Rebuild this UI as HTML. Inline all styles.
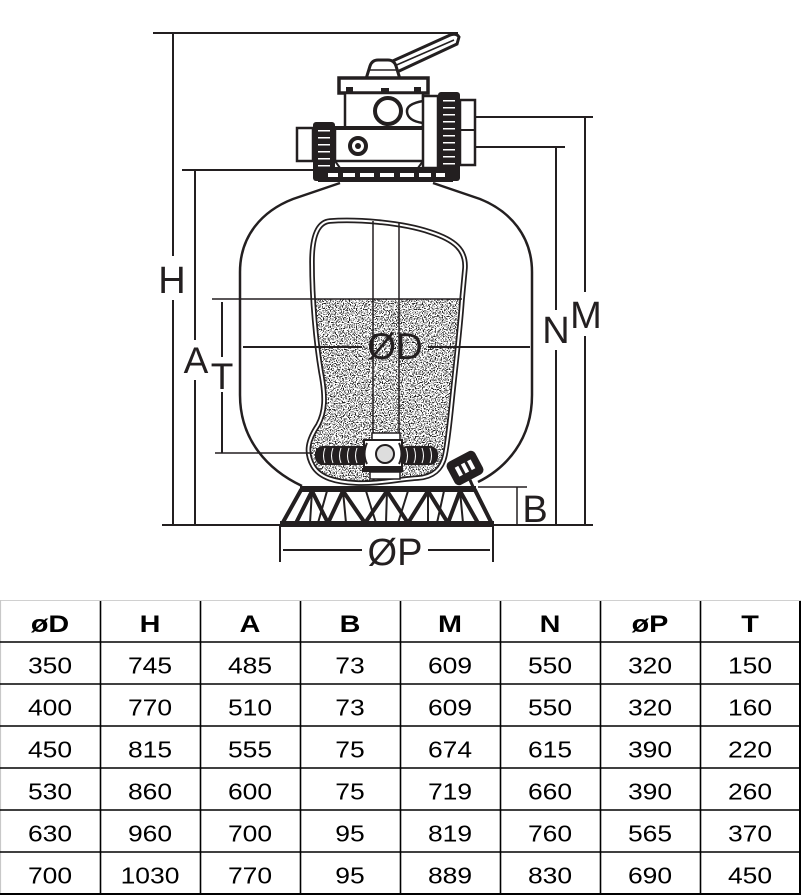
<!DOCTYPE html>
<html><head><meta charset="utf-8"><style>
html,body{margin:0;padding:0;background:#fff;}
svg{display:block;}
</style></head><body>
<svg width="801" height="895" viewBox="0 0 801 895" xmlns="http://www.w3.org/2000/svg" font-family="'Liberation Sans', Arial, sans-serif">
<defs>
<filter id="sp" x="0" y="0" width="1" height="1" color-interpolation-filters="sRGB">
<feTurbulence type="fractalNoise" baseFrequency="0.85" numOctaves="1" seed="7"/>
<feColorMatrix type="matrix" values="0 0 0 0 0.12  0 0 0 0 0.12  0 0 0 0 0.12  18 0 0 0 -9.45"/>
</filter>
<clipPath id="cut"><path d="M330,221 C355,219 400,222 430,232 C455,240 466,250 465,268 L462,300 C460,330 455,370 452,400 C450,420 448,440 445,455 C442,470 432,477 418,478 C400,479 378,484 356,483 C336,482 320,478 313,466 C305,452 308,440 318,425 C325,412 326,398 321,372 C316,342 312,300 312,262 C312,236 318,222 330,221 Z"/></clipPath>
<clipPath id="sandclip"><rect x="300" y="299" width="180" height="190"/></clipPath>
</defs>
<rect width="801" height="895" fill="#fff"/>

<!-- dimension lines -->
<g stroke="#231f20" stroke-width="2" fill="none">
<line x1="153" y1="33" x2="458" y2="33"/>
<line x1="173" y1="33" x2="173" y2="256"/>
<line x1="173" y1="300" x2="173" y2="525"/>
<line x1="182" y1="170" x2="317" y2="170"/>
<line x1="195" y1="170" x2="195" y2="340"/>
<line x1="195" y1="380" x2="195" y2="525"/>
<line x1="475" y1="117" x2="593" y2="117"/>
<line x1="585" y1="117" x2="585" y2="292"/>
<line x1="585" y1="336" x2="585" y2="525"/>
<line x1="475" y1="147" x2="565" y2="147"/>
<line x1="556" y1="147" x2="556" y2="310"/>
<line x1="556" y1="350" x2="556" y2="525"/>
<line x1="162" y1="525" x2="593" y2="525"/>
<line x1="478" y1="487" x2="527" y2="487" stroke-width="1.5"/>
<line x1="517" y1="487" x2="517" y2="525" stroke-width="1.5"/>
<line x1="280" y1="525" x2="280" y2="562"/>
<line x1="493" y1="525" x2="493" y2="562"/>
<line x1="283" y1="550" x2="362" y2="550"/>
<line x1="428" y1="550" x2="490" y2="550"/>
</g>

<!-- tank -->
<path d="M340,183 L293,199 C262,211 240,236 240,272 L240,395 C240,440 268,470 302,486" fill="none" stroke="#231f20" stroke-width="2.5"/>
<path d="M433,183 L480,199 C510,211 532,236 532,272 L532,395 C532,440 506,468 478,482" fill="none" stroke="#231f20" stroke-width="2.5"/>

<!-- cutout -->
<path d="M330,221 C355,219 400,222 430,232 C455,240 466,250 465,268 L462,300 C460,330 455,370 452,400 C450,420 448,440 445,455 C442,470 432,477 418,478 C400,479 378,484 356,483 C336,482 320,478 313,466 C305,452 308,440 318,425 C325,412 326,398 321,372 C316,342 312,300 312,262 C312,236 318,222 330,221 Z" fill="#fff"/>
<g clip-path="url(#cut)">
<g clip-path="url(#sandclip)">
<rect x="300" y="299" width="180" height="190" fill="#fff"/>
<rect x="300" y="299" width="180" height="190" fill="#fff" filter="url(#sp)"/>
</g>
</g>
<path d="M330,221 C355,219 400,222 430,232 C455,240 466,250 465,268 L462,300 C460,330 455,370 452,400 C450,420 448,440 445,455 C442,470 432,477 418,478 C400,479 378,484 356,483 C336,482 320,478 313,466 C305,452 308,440 318,425 C325,412 326,398 321,372 C316,342 312,300 312,262 C312,236 318,222 330,221 Z" fill="none" stroke="#231f20" stroke-width="5.5"/>
<path d="M330,221 C355,219 400,222 430,232 C455,240 466,250 465,268 L462,300 C460,330 455,370 452,400 C450,420 448,440 445,455 C442,470 432,477 418,478 C400,479 378,484 356,483 C336,482 320,478 313,466 C305,452 308,440 318,425 C325,412 326,398 321,372 C316,342 312,300 312,262 C312,236 318,222 330,221 Z" fill="none" stroke="#fff" stroke-width="2"/>

<!-- inner lines -->
<g stroke="#231f20" fill="none">
<line x1="373" y1="221" x2="373" y2="433" stroke-width="1.5"/>
<line x1="399" y1="222" x2="399" y2="433" stroke-width="1.5"/>
<line x1="212" y1="299" x2="462" y2="299" stroke-width="1.5"/>
<line x1="243" y1="347" x2="362" y2="347" stroke-width="2"/>
<line x1="428" y1="347" x2="530" y2="347" stroke-width="2"/>
<line x1="222" y1="302" x2="222" y2="357" stroke-width="2"/>
<line x1="222" y1="392" x2="222" y2="453" stroke-width="2"/>
<line x1="215" y1="453" x2="313" y2="453" stroke-width="1.5"/>
</g>

<!-- lateral assembly -->
<rect x="372" y="433" width="28" height="8" fill="#fff" stroke="#231f20" stroke-width="1.5"/>
<rect x="315" y="446" width="57" height="19" rx="8" fill="#231f20"/>
<rect x="399" y="446" width="39" height="19" rx="8" fill="#231f20"/>
<g stroke="#fff" stroke-width="1" fill="none">
<path d="M325,448 q-3,8 0,15 M333,448 q-3,8 0,15 M341,448 q-3,8 0,15 M349,448 q-3,8 0,15 M357,448 q-3,8 0,15 M365,448 q-3,8 0,15"/>
<path d="M406,448 q3,8 0,15 M414,448 q3,8 0,15 M422,448 q3,8 0,15 M430,448 q3,8 0,15"/>
</g>
<rect x="364" y="440" width="38" height="27" fill="#fff" stroke="#231f20" stroke-width="2"/>
<path d="M367,443 q-5,11 0,21 M399,443 q5,11 0,21" stroke="#231f20" stroke-width="2" fill="none"/>
<circle cx="385" cy="454" r="9" fill="#ddd" stroke="#231f20" stroke-width="2"/>
<rect x="362" y="468" width="41" height="4" fill="#231f20"/>
<rect x="370" y="472" width="30" height="7" fill="#fff" stroke="#231f20" stroke-width="1.5"/>

<!-- drain plug -->
<g transform="translate(465,468) rotate(-28)">
<rect x="-16" y="-13" width="32" height="26" rx="5" fill="#231f20"/>
<rect x="-9" y="-5" width="4" height="10" fill="#fff"/>
<rect x="-2" y="-5" width="4" height="10" fill="#fff"/>
<rect x="5" y="-5" width="4" height="10" fill="#fff"/>
</g>
<line x1="470" y1="480" x2="474" y2="489" stroke="#231f20" stroke-width="3"/>

<!-- base stand -->
<g fill="#231f20">
<rect x="300" y="486" width="176" height="6"/>
<rect x="280" y="521" width="214" height="6"/>
</g>
<g stroke="#231f20" stroke-width="4" stroke-linecap="round">
<line x1="301" y1="490" x2="282" y2="524"/>
<line x1="475" y1="490" x2="492" y2="524"/>
<line x1="312" y1="491" x2="296" y2="523"/>
<line x1="312" y1="491" x2="328" y2="523"/>
<line x1="343" y1="491" x2="328" y2="523"/>
<line x1="343" y1="491" x2="365" y2="523"/>
<line x1="387" y1="491" x2="365" y2="523"/>
<line x1="387" y1="491" x2="408" y2="523"/>
<line x1="428" y1="491" x2="408" y2="523"/>
<line x1="428" y1="491" x2="448" y2="523"/>
<line x1="460" y1="491" x2="448" y2="523"/>
<line x1="460" y1="491" x2="478" y2="523"/>
</g>
<g stroke="#231f20" stroke-width="2">
<line x1="312" y1="491" x2="310" y2="523"/>
<line x1="343" y1="491" x2="346" y2="523"/>
<line x1="387" y1="491" x2="386" y2="523"/>
<line x1="428" y1="491" x2="428" y2="523"/>
<line x1="460" y1="491" x2="463" y2="523"/>
<line x1="327" y1="491" x2="318" y2="523"/>
<line x1="366" y1="491" x2="376" y2="523"/>
<line x1="408" y1="491" x2="398" y2="523"/>
<line x1="444" y1="491" x2="437" y2="523"/>
</g>

<!-- valve -->
<path d="M386,64 L448,36 Q456,32 459,37 L457,44 L397,72 Z" fill="#fff" stroke="#231f20" stroke-width="3"/>
<line x1="392" y1="67" x2="454" y2="40" stroke="#231f20" stroke-width="1.5"/>
<path d="M366,79 L370,66 Q372,60 378,60 L388,60 Q394,60 396,66 L400,79 Z" fill="#fff" stroke="#231f20" stroke-width="3"/>
<line x1="369" y1="70" x2="397" y2="70" stroke="#231f20" stroke-width="1.5"/>
<rect x="339" y="78" width="89" height="15" fill="#fff" stroke="#231f20" stroke-width="3.5"/>
<g fill="#231f20">
<rect x="346" y="87" width="7" height="8"/>
<rect x="381" y="88" width="8" height="7"/>
<rect x="414" y="87" width="7" height="8"/>
</g>
<rect x="345" y="93" width="78" height="35" fill="#fff" stroke="#231f20" stroke-width="2.5"/>
<circle cx="388" cy="111" r="13" fill="#fff" stroke="#231f20" stroke-width="4"/>
<path d="M423,101 Q406,104 407,112 Q408,121 423,123" fill="#fff" stroke="#231f20" stroke-width="2.5"/>
<rect x="335" y="128" width="90" height="33" fill="#fff" stroke="#231f20" stroke-width="2.5"/>
<line x1="335" y1="128" x2="425" y2="128" stroke="#231f20" stroke-width="4"/>
<circle cx="358" cy="146" r="8" fill="#fff" stroke="#231f20" stroke-width="4"/>
<circle cx="358" cy="146" r="3" fill="#231f20"/>
<path d="M335,161 L340,168 M423,161 L418,168" stroke="#231f20" stroke-width="2"/>
<rect x="423" y="96" width="15" height="72" fill="#fff" stroke="#231f20" stroke-width="2.5"/>
<rect x="297" y="128" width="16" height="33" fill="#fff" stroke="#231f20" stroke-width="2.5"/>
<rect x="460" y="100" width="15" height="65" fill="#fff" stroke="#231f20" stroke-width="2.5"/>
<line x1="460" y1="130" x2="475" y2="130" stroke="#231f20" stroke-width="2"/>
<rect x="313" y="122" width="22" height="59" rx="3" fill="#231f20"/>
<rect x="438" y="92" width="22" height="89" rx="3" fill="#231f20"/>
<g fill="#fff">
<rect x="318" y="130" width="12" height="1.5"/><rect x="318" y="137" width="12" height="1.5"/><rect x="318" y="144" width="12" height="1.5"/><rect x="318" y="151" width="12" height="1.5"/><rect x="318" y="158" width="12" height="1.5"/><rect x="318" y="165" width="12" height="1.5"/>
<rect x="443" y="100" width="12" height="1.5"/><rect x="443" y="107" width="12" height="1.5"/><rect x="443" y="114" width="12" height="1.5"/><rect x="443" y="121" width="12" height="1.5"/><rect x="443" y="128" width="12" height="1.5"/><rect x="443" y="135" width="12" height="1.5"/><rect x="443" y="142" width="12" height="1.5"/><rect x="443" y="149" width="12" height="1.5"/><rect x="443" y="156" width="12" height="1.5"/><rect x="443" y="163" width="12" height="1.5"/>
</g>
<rect x="318" y="167" width="135" height="15" fill="#231f20"/>
<g fill="#fff">
<rect x="328" y="173" width="10" height="4"/><rect x="343" y="173" width="12" height="4"/><rect x="360" y="173" width="14" height="4"/><rect x="380" y="173" width="14" height="4"/><rect x="400" y="173" width="14" height="4"/><rect x="419" y="173" width="12" height="4"/><rect x="436" y="173" width="9" height="4"/>
</g>

<!-- labels -->
<g fill="#231f20" font-size="38" text-anchor="middle">
<text x="172" y="293">H</text>
<text x="196" y="373" font-size="37">A</text>
<text x="222" y="389" font-size="37">T</text>
<text x="556" y="343">N</text>
<text x="586" y="328">M</text>
<text x="535" y="522">B</text>
<text x="395" y="359" font-size="37">ØD</text>
<text x="395" y="565">ØP</text>
</g>

<!-- table -->
<g>
<line x1="0" y1="600.5" x2="801" y2="600.5" stroke="#d0d0d0" stroke-width="1"/>
<line x1="0.5" y1="600" x2="0.5" y2="895" stroke="#c8c8c8" stroke-width="1.2"/>
<g stroke="#000" stroke-width="1.6">
<line x1="100.5" y1="601" x2="100.5" y2="894"/>
<line x1="200.5" y1="601" x2="200.5" y2="894"/>
<line x1="300.5" y1="601" x2="300.5" y2="894"/>
<line x1="400.5" y1="601" x2="400.5" y2="894"/>
<line x1="500.5" y1="601" x2="500.5" y2="894"/>
<line x1="600.5" y1="601" x2="600.5" y2="894"/>
<line x1="700.5" y1="601" x2="700.5" y2="894"/>
<line x1="0" y1="642" x2="800" y2="642"/>
<line x1="0" y1="684" x2="800" y2="684"/>
<line x1="0" y1="726" x2="800" y2="726"/>
<line x1="0" y1="768" x2="800" y2="768"/>
<line x1="0" y1="810" x2="800" y2="810"/>
<line x1="0" y1="852" x2="800" y2="852"/>
</g>
<rect x="799" y="601" width="2" height="294" fill="#000"/>
<rect x="0" y="893" width="801" height="2" fill="#000"/>
</g>
<g fill="#000" font-size="24" font-weight="bold" text-anchor="middle">
<text transform="translate(50,632) scale(1.2,1)">øD</text>
<text transform="translate(150,632) scale(1.2,1)">H</text>
<text transform="translate(250,632) scale(1.2,1)">A</text>
<text transform="translate(350,632) scale(1.2,1)">B</text>
<text transform="translate(450,632) scale(1.2,1)">M</text>
<text transform="translate(550,632) scale(1.2,1)">N</text>
<text transform="translate(650,632) scale(1.2,1)">øP</text>
<text transform="translate(750,632) scale(1.2,1)">T</text>
</g>
<g fill="#000" font-size="23" text-anchor="middle">
<text transform="translate(50,673.5) scale(1.15,1)">350</text><text transform="translate(150,673.5) scale(1.15,1)">745</text><text transform="translate(250,673.5) scale(1.15,1)">485</text><text transform="translate(350,673.5) scale(1.15,1)">73</text><text transform="translate(450,673.5) scale(1.15,1)">609</text><text transform="translate(550,673.5) scale(1.15,1)">550</text><text transform="translate(650,673.5) scale(1.15,1)">320</text><text transform="translate(750,673.5) scale(1.15,1)">150</text>
<text transform="translate(50,715.5) scale(1.15,1)">400</text><text transform="translate(150,715.5) scale(1.15,1)">770</text><text transform="translate(250,715.5) scale(1.15,1)">510</text><text transform="translate(350,715.5) scale(1.15,1)">73</text><text transform="translate(450,715.5) scale(1.15,1)">609</text><text transform="translate(550,715.5) scale(1.15,1)">550</text><text transform="translate(650,715.5) scale(1.15,1)">320</text><text transform="translate(750,715.5) scale(1.15,1)">160</text>
<text transform="translate(50,757.5) scale(1.15,1)">450</text><text transform="translate(150,757.5) scale(1.15,1)">815</text><text transform="translate(250,757.5) scale(1.15,1)">555</text><text transform="translate(350,757.5) scale(1.15,1)">75</text><text transform="translate(450,757.5) scale(1.15,1)">674</text><text transform="translate(550,757.5) scale(1.15,1)">615</text><text transform="translate(650,757.5) scale(1.15,1)">390</text><text transform="translate(750,757.5) scale(1.15,1)">220</text>
<text transform="translate(50,799.5) scale(1.15,1)">530</text><text transform="translate(150,799.5) scale(1.15,1)">860</text><text transform="translate(250,799.5) scale(1.15,1)">600</text><text transform="translate(350,799.5) scale(1.15,1)">75</text><text transform="translate(450,799.5) scale(1.15,1)">719</text><text transform="translate(550,799.5) scale(1.15,1)">660</text><text transform="translate(650,799.5) scale(1.15,1)">390</text><text transform="translate(750,799.5) scale(1.15,1)">260</text>
<text transform="translate(50,841.5) scale(1.15,1)">630</text><text transform="translate(150,841.5) scale(1.15,1)">960</text><text transform="translate(250,841.5) scale(1.15,1)">700</text><text transform="translate(350,841.5) scale(1.15,1)">95</text><text transform="translate(450,841.5) scale(1.15,1)">819</text><text transform="translate(550,841.5) scale(1.15,1)">760</text><text transform="translate(650,841.5) scale(1.15,1)">565</text><text transform="translate(750,841.5) scale(1.15,1)">370</text>
<text transform="translate(50,883.5) scale(1.15,1)">700</text><text transform="translate(150,883.5) scale(1.15,1)">1030</text><text transform="translate(250,883.5) scale(1.15,1)">770</text><text transform="translate(350,883.5) scale(1.15,1)">95</text><text transform="translate(450,883.5) scale(1.15,1)">889</text><text transform="translate(550,883.5) scale(1.15,1)">830</text><text transform="translate(650,883.5) scale(1.15,1)">690</text><text transform="translate(750,883.5) scale(1.15,1)">450</text>
</g>
</svg>
</body></html>
